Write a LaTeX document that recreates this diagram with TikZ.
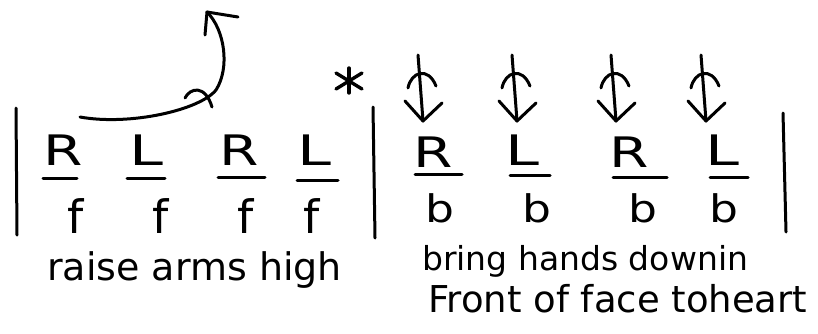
\documentclass[tikz,border=0pt]{standalone}
\usepackage{fontspec}
\setmainfont{DejaVu Sans}
\usetikzlibrary{calc}
\begin{document}
\begin{tikzpicture}[x=1pt,y=-1pt,
  ink/.style={line width=3pt,line cap=round,line join=round,black},
  capl/.style={font=\fontsize{42}{42}\selectfont,anchor=base,inner sep=0pt},
  lowf/.style={font=\fontsize{46}{46}\selectfont,anchor=base,inner sep=0pt},
  lowb/.style={font=\fontsize{38}{38}\selectfont,anchor=base,inner sep=0pt},
  words/.style={anchor=base west,inner sep=0pt}]
\useasboundingbox[fill=white] (0,0) rectangle (818,333);
% bars
\coordinate (b1t) at (16,108); \coordinate (b1b) at (17,235);
\coordinate (b2t) at (373,107); \coordinate (b2b) at (375,238);
\coordinate (b3t) at (783,113); \coordinate (b3b) at (786,232);
\draw[ink] (b1t) -- (b1b);
\draw[ink] (b2t) -- (b2b);
\draw[ink] (b3t) -- (b3b);
% asterisk
\coordinate (ast) at (349,81);
\draw[ink,line width=3.4pt] ($(ast)+(0,-13)$) -- ($(ast)+(0,12)$);
\draw[ink,line width=3.4pt] ($(ast)+(-13,-8)$) -- ($(ast)+(13,8)$);
\draw[ink,line width=3.4pt] ($(ast)+(-13,8)$) -- ($(ast)+(13,-8)$);
% curved arrow
\coordinate (cs) at (80,117);
\coordinate (ct) at (207,12);
\draw[ink] (cs) .. controls (130,126) and (200,110) .. (216,90)
  .. controls (230,68) and (225,30) .. (ct);
\draw[ink] (ct) -- (205,35);
\draw[ink] (ct) -- (238,17);
\draw[ink] (185,98) .. controls (190,88) and (205,84) .. (212,107);
% left section letters
\node[capl] (r1) at (63,165) {\scalebox{1.35}[1]{R}};
\node[capl] (l1) at (146,165) {\scalebox{1.45}[1]{L}};
\node[capl] (r2) at (239,165) {\scalebox{1.35}[1]{R}};
\node[capl] (l2) at (314,165) {\scalebox{1.45}[1]{L}};
\draw[ink] (43,178) -- (77,178);
\draw[ink] (127,178) -- (165,178);
\draw[ink] (218,177) -- (265,177);
\draw[ink] (297,180) -- (338,180);
\node[lowf] (f1) at (76,233) {f};
\node[lowf] (f2) at (161,233) {f};
\node[lowf] (f3) at (246,233) {f};
\node[lowf] (f4) at (312,233) {f};
\node[words,font=\fontsize{38}{38}\selectfont] (t1) at (47,280) {raise arms high};
% right section arrows
\foreach \n/\x in {a/420,b/514,c/613,d/703}{
  \coordinate (\n top) at (\x-2,55);
  \coordinate (\n tip) at (\x+3,121);
  \draw[ink] (\n top) -- (\n tip);
  \draw[ink] (\x-12,88) .. controls (\x-9,72) and (\x+8,66) .. (\x+16,86);
  \draw[ink] (\x-15,101) -- (\n tip) -- (\x+22,103);
}
% right section letters
\node[capl] (r3) at (433,167) {\scalebox{1.35}[1]{R}};
\node[capl] (l3) at (522,165) {\scalebox{1.45}[1]{L}};
\node[capl] (r4) at (629,167) {\scalebox{1.35}[1]{R}};
\node[capl] (l4) at (722,165) {\scalebox{1.45}[1]{L}};
\draw[ink] (415,174) -- (462,174);
\draw[ink] (510,175) -- (550,175);
\draw[ink] (613,177) -- (667,177);
\draw[ink] (710,177) -- (748,177);
\node[lowb] (bb1) at (440,222) {\scalebox{1.2}[1]{b}};
\node[lowb] (bb2) at (537,222) {\scalebox{1.2}[1]{b}};
\node[lowb] (bb3) at (643,222) {\scalebox{1.2}[1]{b}};
\node[lowb] (bb4) at (724,222) {\scalebox{1.2}[1]{b}};
\node[words,font=\fontsize{33}{33}\selectfont] (t2) at (422,270) {bring hands downin};
\node[words,font=\fontsize{37}{37}\selectfont] (t3) at (428,312) {Front of face toheart};
\end{tikzpicture}
\end{document}
